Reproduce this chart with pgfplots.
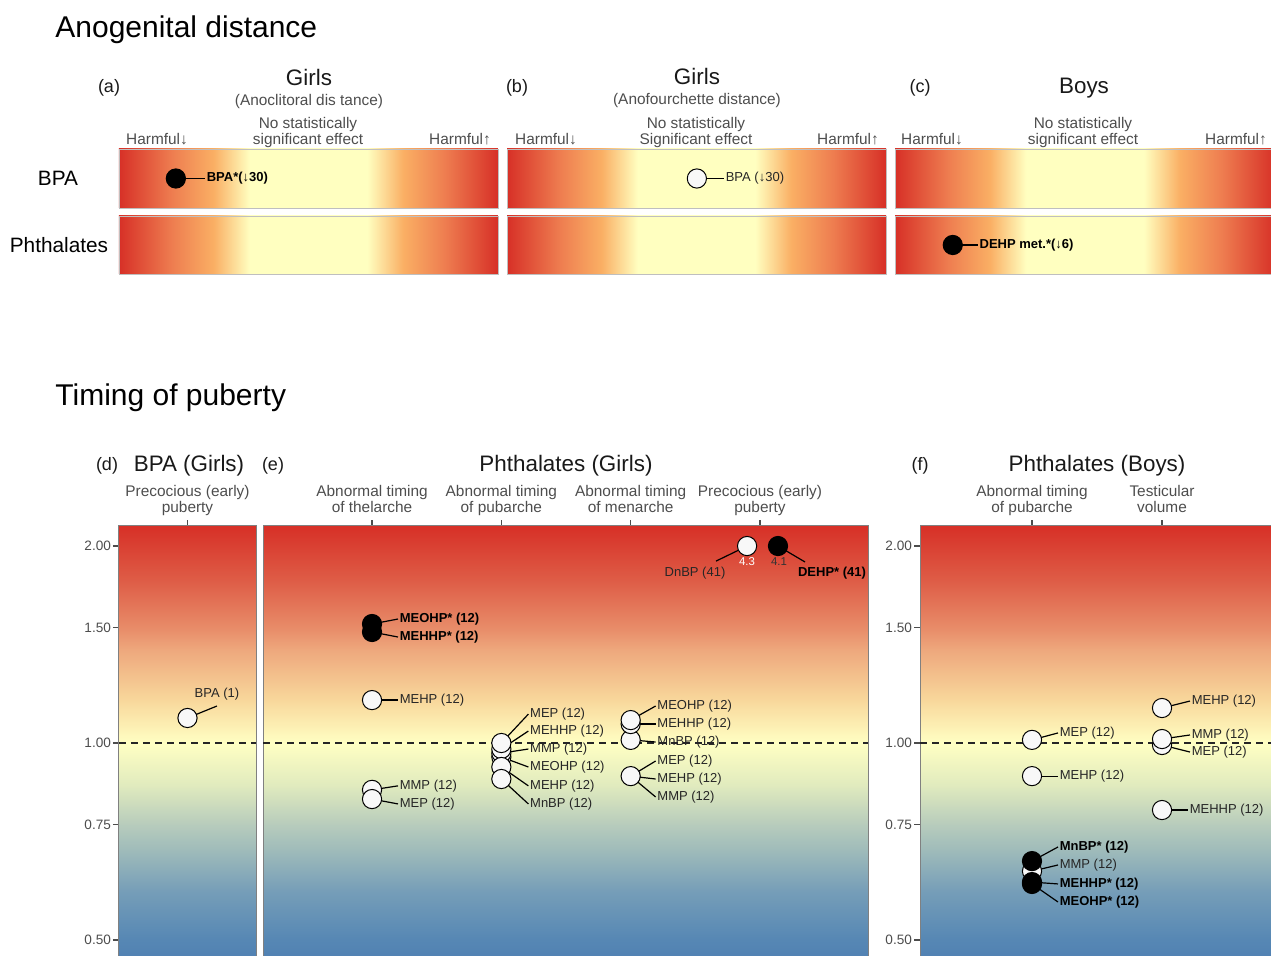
\documentclass[border=0pt]{standalone}
\usepackage{pgfplots}
\pgfplotsset{compat=1.18}
\usepackage{fontspec}
\setmainfont{Liberation Sans}

\definecolor{cRed}{RGB}{215,48,39}
\definecolor{hA}{RGB}{238,125,80}
\definecolor{hB}{RGB}{250,175,100}
\definecolor{cYel}{RGB}{255,255,192}
\definecolor{v0}{RGB}{80,128,178}
\definecolor{v1}{RGB}{86,135,180}
\definecolor{v2}{RGB}{118,158,184}
\definecolor{v3}{RGB}{160,188,186}
\definecolor{v4}{RGB}{182,203,188}
\definecolor{v5}{RGB}{225,235,190}
\definecolor{v6}{RGB}{255,255,195}
\definecolor{v7}{RGB}{248,215,155}
\definecolor{v8}{RGB}{238,168,125}
\definecolor{v9}{RGB}{232,140,105}
\definecolor{v10}{RGB}{222,92,70}
\definecolor{txtgray}{RGB}{77,77,77}
\definecolor{dotwhite}{RGB}{248,248,248}

\pgfdeclarehorizontalshading{hgrad}{100bp}{color(0bp)=(cRed); color(25bp)=(cRed); color(32bp)=(hA); color(37.5bp)=(hB); color(42.25bp)=(cYel); color(57.75bp)=(cYel); color(62.5bp)=(hB); color(68bp)=(hA); color(75bp)=(cRed); color(100bp)=(cRed)}
\pgfdeclareverticalshading{vgrad}{100bp}{color(0bp)=(v0); color(25bp)=(v0); color(27.3bp)=(v1); color(33bp)=(v2); color(37.8bp)=(v3); color(40.5bp)=(v4); color(45.2bp)=(v5); color(50bp)=(v6); color(55bp)=(v7); color(60.7bp)=(v8); color(63.2bp)=(v9); color(68.8bp)=(v10); color(75bp)=(cRed); color(100bp)=(cRed)}

\newcommand\fTitle{\fontsize{15}{18}\selectfont}
\newcommand\fHead{\fontsize{11.2}{13}\selectfont}
\newcommand\fLet{\fontsize{9}{11}\selectfont}
\newcommand\fSub{\fontsize{7.7}{8}\selectfont}
\newcommand\fRow{\fontsize{10.4}{12}\selectfont}
\newcommand\fLab{\fontsize{6.5}{7.5}\selectfont}

\tikzset{
  plab/.style={anchor=west, inner sep=0.7pt, font=\fLab, text=black!85},
  clab/.style={anchor=center, inner sep=0pt, font=\fLab, text=black!85},
  sub/.style={anchor=base, inner sep=0pt, font=\fSub, text=txtgray},
  head/.style={anchor=base, inner sep=0pt, font=\fHead, text=black!90},
  let/.style={anchor=base, inner sep=0pt, font=\fLet, text=black!90},
}
% connector from point (#1,#2) to label anchor (#3,#4), label text #5
\newcommand{\cl}[5]{\addplot[cn] coordinates {(#1,#2) (#3,#4)}; \node[plab] at (axis cs:#3,#4) {#5};}

\pgfplotsset{
  cn/.style={black, line width=0.6pt, mark=none, forget plot},
  wdot/.style={only marks, mark=*, mark size=4.8pt, mark options={fill=dotwhite, draw=black, line width=0.5pt}, forget plot},
  bdot/.style={only marks, mark=*, mark size=4.8pt, mark options={fill=black, draw=black, line width=0.5pt}, forget plot},
  refline/.style={black!85, dash pattern=on 3.5pt off 2.5pt, line width=0.6pt, forget plot},
  topbar/.style={scale only axis, width=189.5pt, height=29.5pt, xmin=0, xmax=1, ymin=0, ymax=1,
    ticks=none, axis background/.style={shading=hgrad},
    axis line style={draw=black!25, line width=0.4pt}, clip=false, anchor=north west},
  bpanel/.style={scale only axis, height=217pt, ymin=0.466, ymax=2.146,
    axis background/.style={shading=vgrad},
    axis line style={draw=black!50, line width=0.5pt}, clip=false, anchor=north west,
    xtick pos=right, xticklabel pos=right, tick align=outside, major tick length=3pt,
    tick style={draw=black!70, line width=0.6pt},
    xticklabel style={align=center, font=\fSub, text=txtgray, text depth=0pt},
    ytick pos=left, yticklabel style={font=\fontsize{6.8}{8}\selectfont, text=txtgray, xshift=2.5pt},
    ytick={0.5,0.75,1,1.5,2}, yticklabels={0.50,0.75,1.00,1.50,2.00}},
}

\begin{document}
\begin{tikzpicture}
\begin{scope}[x=0.5pt,y=-0.5pt]
% ---------- section titles ----------
\node[anchor=base west, inner sep=0pt, font=\fTitle] at (55,38) {Anogenital distance};
\node[anchor=base west, inner sep=0pt, font=\fTitle] at (55,406) {Timing of puberty};

% ---------- top headers ----------
\node[let] at (109,93) {(a)};
\node[head] at (309,86) {Girls};
\node[sub] at (309,106) {(Anoclitoral dis tance)};
\node[sub] at (308,129) {No statistically};
\node[sub] at (308,145) {significant effect};
\node[sub] at (157,145) {Harmful↓};
\node[sub] at (460,145) {Harmful↑};

\node[let] at (517,93) {(b)};
\node[head] at (697,85) {Girls};
\node[sub] at (697,105) {(Anofourchette distance)};
\node[sub] at (696,129) {No statistically};
\node[sub] at (696,145) {Significant effect};
\node[sub] at (546,145) {Harmful↓};
\node[sub] at (848,145) {Harmful↑};

\node[let] at (920,93) {(c)};
\node[head] at (1084,94) {Boys};
\node[sub] at (1083,129) {No statistically};
\node[sub] at (1083,145) {significant effect};
\node[sub] at (932,145) {Harmful↓};
\node[sub] at (1236,145) {Harmful↑};

\node[anchor=base, inner sep=0pt, font=\fRow] at (58,186) {BPA};
\node[anchor=base, inner sep=0pt, font=\fRow] at (59,253) {Phthalates};

% ---------- bottom headers ----------
\node[let] at (107,471) {(d)};
\node[head] at (189,472) {BPA (Girls)};
\node[let] at (273,471) {(e)};
\node[head] at (566,472) {Phthalates (Girls)};
\node[let] at (920,471) {(f)};
\node[head] at (1097,472) {Phthalates (Boys)};
\end{scope}

% ---------- top bars ----------
\begin{axis}[topbar, at={(59.5pt,-74.5pt)}]
\cl{0.150}{0.5}{0.227}{0.5}{\bfseries\color{black}BPA*(↓30)}
\addplot[bdot] coordinates {(0.150,0.5)};
\end{axis}
\begin{axis}[topbar, at={(59.5pt,-108pt)}, height=29pt]
\addplot[draw=none, forget plot] coordinates {(0,0) (1,1)};
\end{axis}

\begin{axis}[topbar, at={(253.5pt,-74.5pt)}]
\cl{0.501}{0.5}{0.5726}{0.5}{BPA (↓30)}
\addplot[wdot] coordinates {(0.501,0.5)};
\end{axis}
\begin{axis}[topbar, at={(253.5pt,-108pt)}, height=29pt]
\addplot[draw=none, forget plot] coordinates {(0,0) (1,1)};
\end{axis}

\begin{axis}[topbar, at={(447.5pt,-74.5pt)}, width=190pt]
\addplot[draw=none, forget plot] coordinates {(0,0) (1,1)};
\end{axis}
\begin{axis}[topbar, at={(447.5pt,-108pt)}, width=190pt, height=29pt]
\cl{0.152}{0.5}{0.218}{0.5}{\bfseries\color{black}DEHP met.*(↓6)}
\addplot[bdot] coordinates {(0.152,0.5)};
\end{axis}

% ---------- panel d ----------
\begin{semilogyaxis}[bpanel, at={(59.5pt,-263pt)}, width=68.5pt, xmin=0.5, xmax=1.5,
  xtick={1}, xticklabels={{Precocious (early)\\puberty}}]
\addplot[refline] coordinates {(0.5,1) (1.5,1)};
\addplot[cn] coordinates {(1,1.092) (1.215,1.139)};
\node[clab] at (axis cs:1.215,1.188) {BPA (1)};
\addplot[wdot] coordinates {(1,1.092)};
\end{semilogyaxis}

% ---------- panel e ----------
\begin{semilogyaxis}[bpanel, at={(131.5pt,-263pt)}, width=302.5pt, xmin=0.157, xmax=4.835,
  xtick={1,2,3,4}, ytick=\empty,
  xticklabels={{Abnormal timing\\of thelarche},{Abnormal timing\\of pubarche},{Abnormal timing\\of menarche},{Precocious (early)\\puberty}}]
\addplot[refline] coordinates {(0.157,1) (4.835,1)};
% thelarche
\cl{1}{1.520}{1.201}{1.547}{\bfseries\color{black}MEOHP* (12)}
\cl{1}{1.478}{1.201}{1.452}{\bfseries\color{black}MEHHP* (12)}
\cl{1}{1.163}{1.201}{1.163}{MEHP (12)}
\cl{1}{0.848}{1.201}{0.860}{MMP (12)}
\cl{1}{0.821}{1.201}{0.807}{MEP (12)}
% pubarche
\cl{2}{1.000}{2.209}{1.107}{MEP (12)}
\cl{2}{0.979}{2.209}{1.043}{MEHHP (12)}
\cl{2}{0.965}{2.209}{0.979}{MMP (12)}
\cl{2}{0.952}{2.209}{0.919}{MEOHP (12)}
\cl{2}{0.919}{2.209}{0.860}{MEHP (12)}
\cl{2}{0.881}{2.209}{0.807}{MnBP (12)}
% menarche
\cl{3}{1.084}{3.193}{1.139}{MEOHP (12)}
\cl{3}{1.069}{3.193}{1.069}{MEHHP (12)}
\cl{3}{1.011}{3.193}{1.0035}{MnBP (12)}
\cl{3}{0.890}{3.193}{0.9386}{MEP (12)}
\cl{3}{0.890}{3.193}{0.881}{MEHP (12)}
\cl{3}{0.890}{3.193}{0.827}{MMP (12)}
% precocious
\addplot[cn] coordinates {(3.9,2.0) (3.660,1.897)};
\node[clab] at (axis cs:3.4975,1.819) {DnBP (41)};
\addplot[cn] coordinates {(4.139,2.0) (4.348,1.891)};
\node[clab, text=black] at (axis cs:4.557,1.819) {\bfseries DEHP* (41)};
% dots
\addplot[wdot] coordinates {(1,1.163) (1,0.848) (1,0.821)};
\addplot[bdot] coordinates {(1,1.520) (1,1.478)};
\addplot[wdot] coordinates {(2,0.952) (2,0.965) (2,0.979) (2,1.000) (2,0.919) (2,0.881)};
\addplot[wdot] coordinates {(3,0.890) (3,1.011) (3,1.069) (3,1.084)};
\addplot[wdot] coordinates {(3.9,2.0)};
\addplot[bdot] coordinates {(4.139,2.0)};
\node[clab, font=\fontsize{5.7}{6}\selectfont, text=white] at (axis cs:3.9,1.891) {4.3};
\node[clab, font=\fontsize{5.7}{6}\selectfont, text=black!80] at (axis cs:4.147,1.891) {4.1};
\end{semilogyaxis}

% ---------- panel f ----------
\begin{semilogyaxis}[bpanel, at={(460pt,-263pt)}, width=177.5pt, xmin=0.1385, xmax=2.869,
  xtick={1,2},
  xticklabels={{Abnormal timing\\of pubarche},{Testicular\\volume}}]
\addplot[refline] coordinates {(0.1385,1) (2.869,1)};
\cl{1}{1.011}{1.2}{1.036}{MEP (12)}
\cl{1}{0.890}{1.2}{0.890}{MEHP (12)}
\cl{1}{0.660}{1.2}{0.6936}{\bfseries\color{black}MnBP* (12)}
\cl{1}{0.637}{1.2}{0.651}{MMP (12)}
\cl{1}{0.613}{1.2}{0.609}{\bfseries\color{black}MEHHP* (12)}
\cl{1}{0.609}{1.2}{0.5715}{\bfseries\color{black}MEOHP* (12)}
\cl{2}{1.131}{2.215}{1.159}{MEHP (12)}
\cl{2}{1.014}{2.215}{1.0286}{MMP (12)}
\cl{2}{0.993}{2.215}{0.9688}{MEP (12)}
\cl{2}{0.790}{2.2}{0.790}{MEHHP (12)}
\addplot[wdot] coordinates {(1,1.011) (1,0.890) (1,0.637)};
\addplot[bdot] coordinates {(1,0.660) (1,0.613) (1,0.609)};
\addplot[wdot] coordinates {(2,1.131) (2,0.993) (2,1.014) (2,0.790)};
\end{semilogyaxis}

\pgfresetboundingbox
\path[use as bounding box] (0,0) rectangle (635.5pt,-478pt);
\end{tikzpicture}
\end{document}
